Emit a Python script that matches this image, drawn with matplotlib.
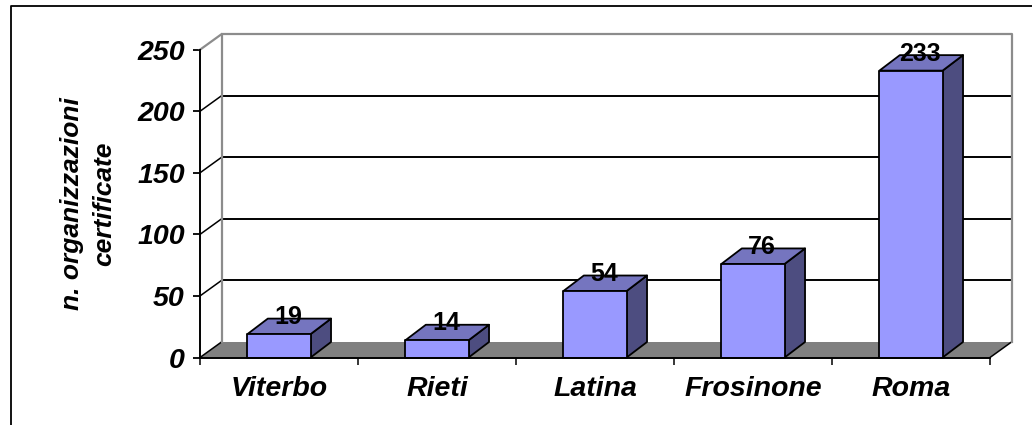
import matplotlib
matplotlib.use("Agg")
import matplotlib.pyplot as plt
from matplotlib.patches import Polygon
from matplotlib.lines import Line2D
from matplotlib.ticker import FixedLocator, NullFormatter

categories = ["Viterbo", "Rieti", "Latina", "Frosinone", "Roma"]
values = [19, 14, 54, 76, 233]
y_ticks = [0, 50, 100, 150, 200, 250]
y_label = "n. organizzazioni\ncertificate"

W, H = 1032, 425
plt.rcParams["font.family"] = ["Liberation Sans", "DejaVu Sans"]
fig = plt.figure(figsize=(W / 100, H / 100), dpi=100, facecolor="white")

# Front plane of the pseudo-3D box, in figure pixels
L, R, T, B = 200, 990, 49.7, 357.5
ax = fig.add_axes([L / W, 1 - B / H, (R - L) / W, (B - T) / H])
ax.set_xlim(0, len(categories))
ax.set_ylim(0, 250)
ax.patch.set_visible(False)
for side in ("top", "right"):
    ax.spines[side].set_visible(False)
for side in ("left", "bottom"):
    ax.spines[side].set_linewidth(1.4)
    ax.spines[side].set_zorder(6)

# Depth offset expressed in data units
dx = 21.5 / ((R - L) / len(categories))
dy = 15.5 / ((B - T) / 250)
WALL = "#8c8c8c"
n = len(categories)

def poly(pts, **kw):
    ax.add_patch(Polygon(pts, closed=True, clip_on=False, **kw))

def line(xs, ys, **kw):
    ax.add_line(Line2D(xs, ys, clip_on=False, **kw))

# Floor
poly([(0, 0), (dx, dy), (n + dx, dy), (n, 0)], facecolor="#808080", edgecolor="none", zorder=1)
line([n, n + dx], [0, dy], color="black", lw=1.1, zorder=2)
line([0, dx], [0, dy], color="black", lw=1.1, zorder=2)

# Back wall and side wall gridlines
for t in y_ticks[1:-1]:
    line([dx, n + dx], [t + dy, t + dy], color="black", lw=1.4, zorder=2)
    line([0, dx], [t, t + dy], color="black", lw=1.1, zorder=2)
line([0, dx], [250, 250 + dy], color=WALL, lw=1.6, zorder=2)
line([dx, dx, n + dx, n + dx], [dy, 250 + dy, 250 + dy, dy], color=WALL, lw=1.6, zorder=2)

# Bars
width = 0.4
for i, v in enumerate(values):
    x0, x1 = i + 0.5 - width / 2, i + 0.5 + width / 2
    style = dict(edgecolor="black", linewidth=1.3, joinstyle="round", zorder=3 + i * 0.01)
    poly([(x1, 0), (x1 + dx * 0.95, dy), (x1 + dx * 0.95, v + dy), (x1, v)], facecolor="#4d4d80", **style)
    poly([(x0, v), (x0 + dx * 0.95, v + dy), (x1 + dx * 0.95, v + dy), (x1, v)], facecolor="#7575bf", **style)
    poly([(x0, 0), (x0, v), (x1, v), (x1, 0)], facecolor="#9999ff", **style)
    ax.annotate(str(v), xy=(i + 0.5 + dx / 2, v), xytext=(-1.5, 17), textcoords="offset pixels",
                ha="center", va="center", fontsize=18, fontweight="bold",
                color="black", zorder=5, annotation_clip=False)

# Axes ticks and labels
ax.set_yticks(y_ticks)
ax.set_yticklabels([str(t) for t in y_ticks], fontsize=20.5, fontweight="bold", fontstyle="italic")
ax.tick_params(axis="y", length=5, width=1.3, pad=6)
ax.set_xticks(range(n + 1))
ax.xaxis.set_major_formatter(NullFormatter())
ax.tick_params(axis="x", which="major", length=5, width=1.1)
ax.xaxis.set_minor_locator(FixedLocator([i + 0.5 for i in range(n)]))
ax.set_xticklabels(categories, minor=True, fontsize=20.5, fontweight="bold", fontstyle="italic")
ax.tick_params(axis="x", which="minor", length=0, pad=13)
ax.set_ylabel(y_label, fontsize=19, fontweight="bold", fontstyle="italic", labelpad=15, linespacing=1.45)

# Outer chart frame, open at the right and bottom of the crop
fx = lambda p: p / W
fy = lambda p: 1 - p / H
fig.add_artist(Line2D([fx(11), fx(11), 1], [0, fy(5.7), fy(5.7)], color="black", lw=1.3))

fig.savefig("out.png", dpi=100)
